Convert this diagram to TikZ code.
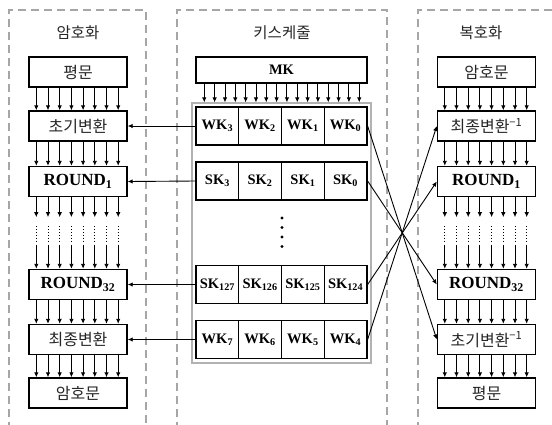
\documentclass[tikz,border=0pt]{standalone}
\usepackage{fontspec}
\setmainfont{Liberation Serif}
\newfontfamily\kr{Noto Sans CJK KR}
\usetikzlibrary{arrows.meta}
\tikzset{
  arr/.style={-{Latex[length=5pt,width=4.5pt]}, line width=0.9pt},
  panel/.style={draw=black!35, line width=1.2pt, dash pattern=on 8pt off 5pt},
  blk/.style={draw, line width=1.4pt, minimum width=98pt, minimum height=30pt, inner sep=0pt, fill=white},
  kt/.style={font=\kr\fontsize{16}{16}\selectfont, text=black!85},
  rt/.style={font=\bfseries\fontsize{17}{17}\selectfont},
  cell/.style={draw, line width=1.3pt, minimum width=42.75pt, minimum height=38pt, inner sep=0pt, font=\bfseries\fontsize{14.5}{14.5}\selectfont},
  ttl/.style={font=\kr\fontsize{15.5}{15.5}\selectfont, text=black!85},
}
\newcommand{\inv}{\textsuperscript{\kr −1}}
\begin{document}
\begin{tikzpicture}[x=1pt,y=-1pt]
\useasboundingbox (0,0) rectangle (552,424);
\clip (0,0) rectangle (552,424);
% panels
\draw[panel] (9,430) -- (9,10) -- (146,10) -- (146,430);
\draw[panel] (177,430) -- (177,10) -- (387,10) -- (387,430);
\draw[panel] (418,430) -- (418,10) -- (560,10);
\node[ttl] (t1) at (78,33) {암호화};
\node[ttl] (t2) at (282,33) {키스케줄};
\node[ttl] (t3) at (481,33) {복호화};
% left column
\node[blk,kt] (L1) at (78,72) {평문};
\node[blk,kt] (L2) at (78,126) {초기변환};
\node[blk,rt] (L3) at (78,181.5) {ROUND\textsubscript{1}};
\node[blk,rt] (L4) at (78,284.5) {ROUND\textsubscript{32}};
\node[blk,kt] (L5) at (78,339.5) {최종변환};
\node[blk,kt] (L6) at (78,393) {암호문};
% right column
\node[blk,kt] (R1) at (486.5,72) {암호문};
\node[blk,kt] (R2) at (486.5,126) {최종변환\inv};
\node[blk,rt] (R3) at (486.5,181.5) {ROUND\textsubscript{1}};
\node[blk,rt] (R4) at (486.5,284.5) {ROUND\textsubscript{32}};
\node[blk,kt] (R5) at (486.5,339.5) {초기변환\inv};
\node[blk,kt] (R6) at (486.5,393) {평문};
% vertical bundles
\foreach \c in {L,R}{
  \foreach \i in {0,...,7}{
    \pgfmathsetmacro{\dx}{8+11.7*\i}
    \draw[arr] ([xshift=\dx pt]\c1.south west) -- ([xshift=\dx pt]\c2.north west);
    \draw[arr] ([xshift=\dx pt]\c2.south west) -- ([xshift=\dx pt]\c3.north west);
    \draw[arr] ([xshift=\dx pt]\c3.south west) -- ([xshift=\dx pt,yshift=-20pt]\c3.south west);
    \draw[line width=0.9pt, dotted] ([xshift=\dx pt,yshift=-29pt]\c3.south west) -- ([xshift=\dx pt,yshift=-44pt]\c3.south west);
    \draw[arr] ([xshift=\dx pt,yshift=24pt]\c4.north west) -- ([xshift=\dx pt]\c4.north west);
    \draw[arr] ([xshift=\dx pt]\c4.south west) -- ([xshift=\dx pt]\c5.north west);
    \draw[arr] ([xshift=\dx pt]\c5.south west) -- ([xshift=\dx pt]\c6.north west);
  }
}
% key schedule
\node[draw, line width=1.4pt, minimum width=171pt, minimum height=26pt, inner sep=0pt, font=\bfseries\fontsize{14.5}{14.5}\selectfont] (MK) at (281.5,70) {MK};
\node[draw=black!30, line width=1.2pt, minimum width=179pt, minimum height=260pt, inner sep=0pt] (kbox) at (281.5,233) {};
\foreach \i in {0,...,15}{
  \pgfmathsetmacro{\dx}{9+10.33*\i}
  \draw[arr] ([xshift=\dx pt]MK.south west) -- ([xshift=\dx pt]MK.south west |- kbox.north);
}
\node[cell] (w3) at (217.4,126) {WK\textsubscript{3}};
\node[cell] (w2) at (260.1,126) {WK\textsubscript{2}};
\node[cell] (w1) at (302.9,126) {WK\textsubscript{1}};
\node[cell] (w0) at (345.6,126) {WK\textsubscript{0}};
\node[cell] (s3) at (217.4,181) {SK\textsubscript{3}};
\node[cell] (s2) at (260.1,181) {SK\textsubscript{2}};
\node[cell] (s1) at (302.9,181) {SK\textsubscript{1}};
\node[cell] (s0) at (345.6,181) {SK\textsubscript{0}};
\node[cell] (s127) at (217.4,284.5) {SK\textsubscript{127}};
\node[cell] (s126) at (260.1,284.5) {SK\textsubscript{126}};
\node[cell] (s125) at (302.9,284.5) {SK\textsubscript{125}};
\node[cell] (s124) at (345.6,284.5) {SK\textsubscript{124}};
\node[cell] (w7) at (217.4,339.5) {WK\textsubscript{7}};
\node[cell] (w6) at (260.1,339.5) {WK\textsubscript{6}};
\node[cell] (w5) at (302.9,339.5) {WK\textsubscript{5}};
\node[cell] (w4) at (345.6,339.5) {WK\textsubscript{4}};
\foreach \y in {218,227.5,237,246.5}{
  \fill (282,\y) circle (1.7pt);
}
% key arrows
\draw[arr] (w3.west) -- (L2.east);
\draw[arr] (s3.west) -- (L3.east);
\draw[arr] (s127.west) -- (L4.east);
\draw[arr] (w7.west) -- (L5.east);
\draw[arr] (w0.east) -- (R5.west);
\draw[arr] (s0.east) -- (R4.west);
\draw[arr] (s124.east) -- (R3.west);
\draw[arr] (w4.east) -- (R2.west);
\end{tikzpicture}
\end{document}
